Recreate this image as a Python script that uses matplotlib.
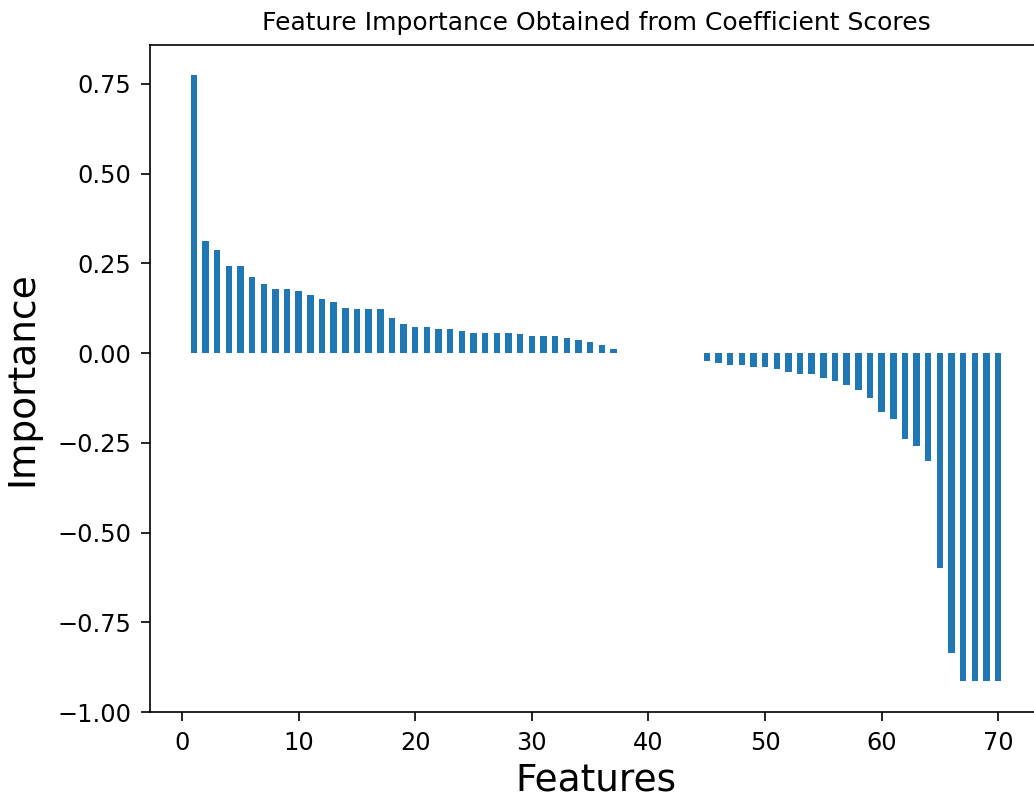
import matplotlib
matplotlib.use("Agg")
import matplotlib.pyplot as plt

# coefficient scores, sorted from largest positive to largest negative
features = list(range(1, 71))
importance = [
    0.774, 0.312, 0.287, 0.242, 0.242, 0.212, 0.191, 0.177, 0.177, 0.172,
    0.162, 0.151, 0.141, 0.126, 0.122, 0.122, 0.122, 0.097, 0.082, 0.072,
    0.072, 0.066, 0.066, 0.061, 0.057, 0.057, 0.057, 0.057, 0.052, 0.047,
    0.047, 0.047, 0.041, 0.036, 0.032, 0.021, 0.010, 0.0, 0.0, 0.0,
    0.0, 0.0, 0.0, 0.0, -0.022, -0.029, -0.033, -0.033, -0.038, -0.038,
    -0.044, -0.053, -0.058, -0.058, -0.069, -0.078, -0.088, -0.103, -0.124, -0.163,
    -0.184, -0.240, -0.259, -0.300, -0.600, -0.837, -0.915, -0.915, -0.915, -0.915,
]

fig = plt.figure(figsize=(1034 / 150, 797 / 150), dpi=150)
# axes runs a bit past the right edge of the canvas
ax = fig.add_axes([150 / 1034, 85 / 797, 892 / 1034, 667 / 797])

ax.bar(features, importance, width=0.55, color="#1f77b4")
ax.set_ylim(-1.0, 0.858)

ax.tick_params(labelsize=11.5, length=4.5, pad=4.5)
ax.set_title("Feature Importance Obtained from Coefficient Scores", fontsize=12, pad=7)
ax.set_xlabel("Features", fontsize=18, labelpad=3.5)
ax.set_ylabel("Importance", fontsize=18, labelpad=8)

fig.savefig("out.png", dpi=150)
